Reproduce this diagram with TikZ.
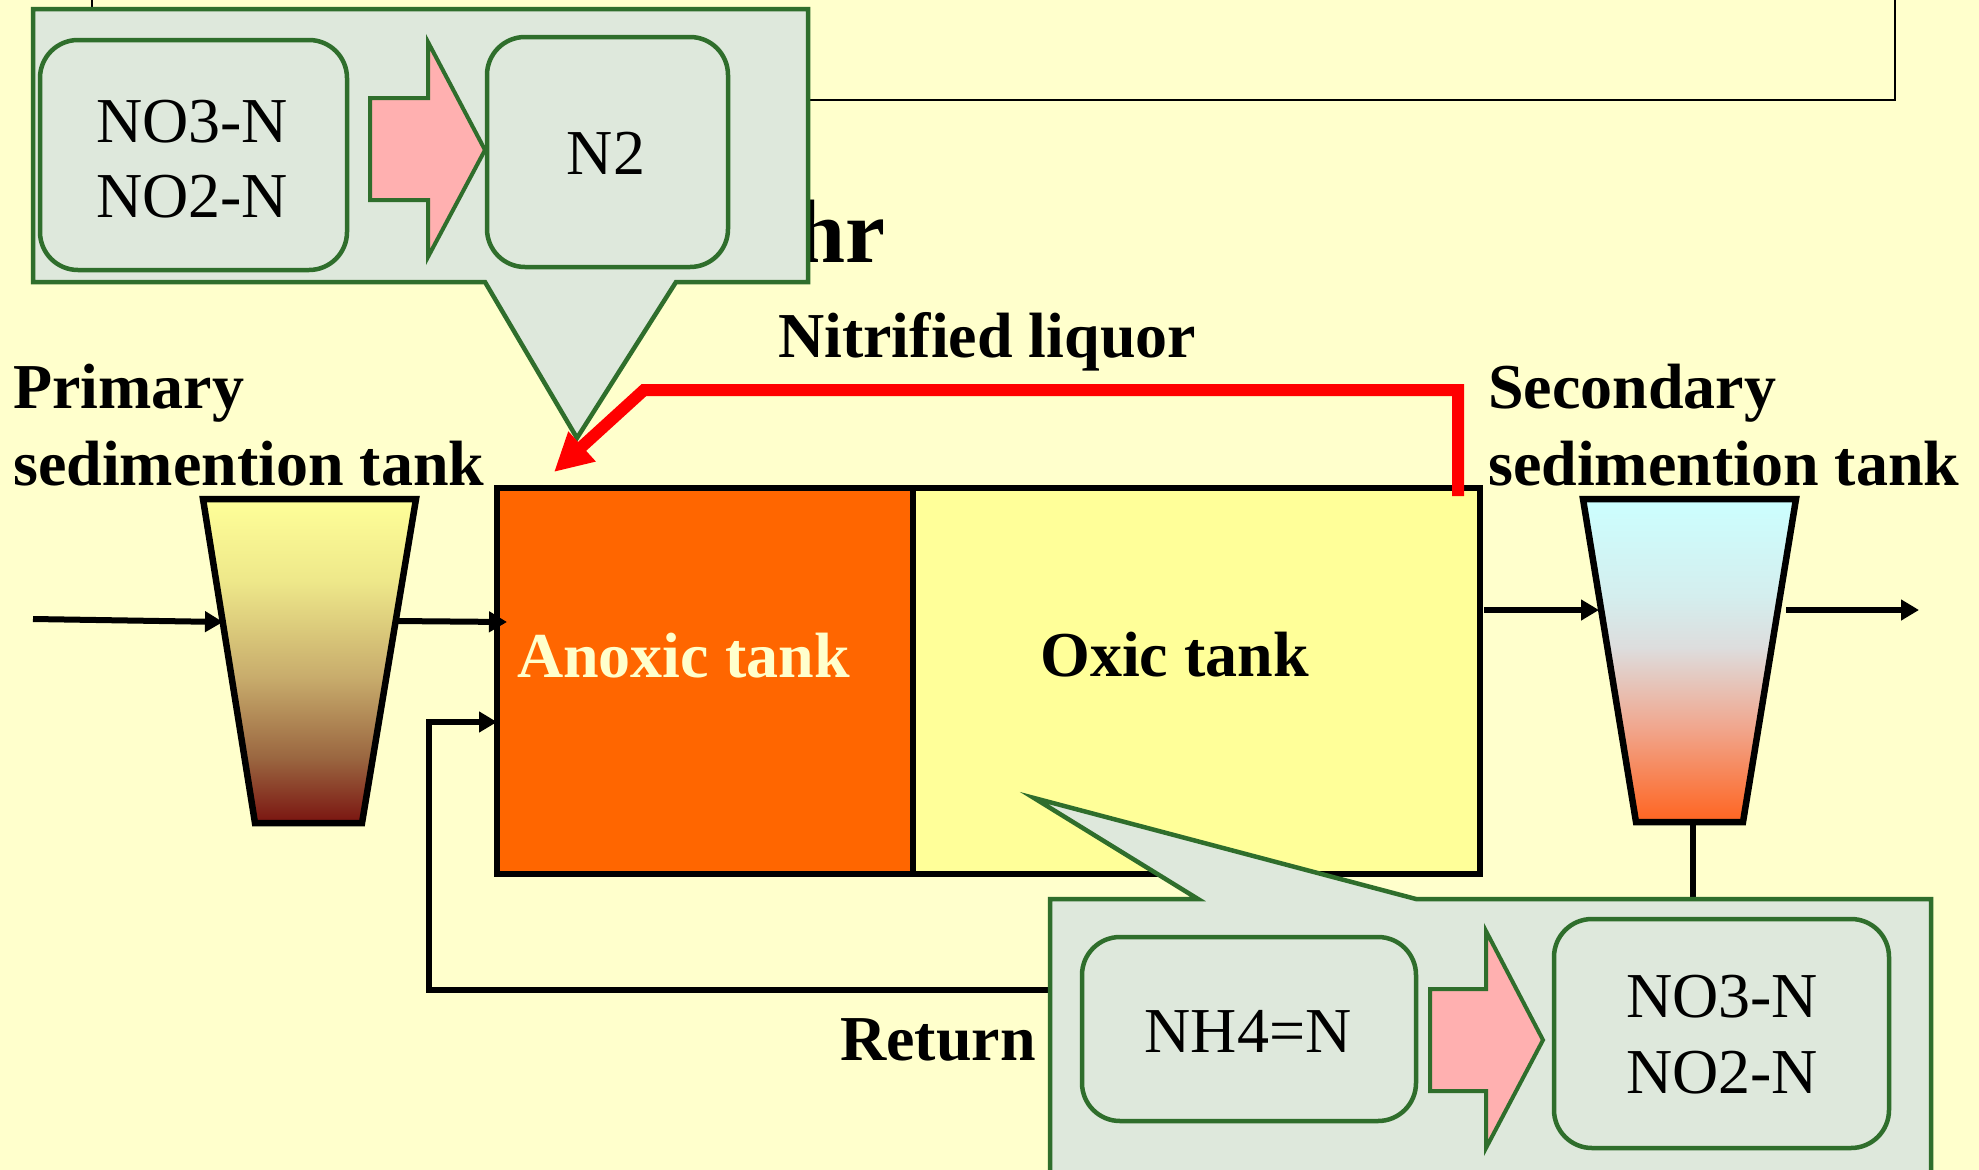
\documentclass[tikz,border=0pt]{standalone}
\usepackage{fontspec}
\setmainfont{Liberation Serif}
\usetikzlibrary{arrows.meta}
\definecolor{bg}{HTML}{FFFFCC}
\definecolor{anox}{HTML}{FF6600}
\definecolor{oxic}{HTML}{FFFF99}
\definecolor{cofill}{HTML}{DEE8DC}
\definecolor{cogreen}{HTML}{2F6E2C}
\definecolor{pinkarr}{HTML}{FFB0B0}
\definecolor{anoxtext}{HTML}{FFFFCC}
\definecolor{ptop}{HTML}{FFFF99}
\definecolor{pa}{HTML}{EEE88A}
\definecolor{pb}{HTML}{C8AC6C}
\definecolor{pc}{HTML}{9A6640}
\definecolor{pbot}{HTML}{7A1410}
\definecolor{stop}{HTML}{CCFFFF}
\definecolor{sa}{HTML}{D4EEEE}
\definecolor{sb}{HTML}{DDDDDD}
\definecolor{sc}{HTML}{F0A890}
\definecolor{sbot}{HTML}{FF6420}
\pgfdeclareverticalshading{primshade}{100bp}{color(0bp)=(pbot); color(25bp)=(pbot); color(35bp)=(pc); color(47.5bp)=(pb); color(62.5bp)=(pa); color(75bp)=(ptop); color(100bp)=(ptop)}
\pgfdeclareverticalshading{secshade}{100bp}{color(0bp)=(sbot); color(25bp)=(sbot); color(40bp)=(sc); color(52bp)=(sb); color(60bp)=(sa); color(75bp)=(stop); color(100bp)=(stop)}
\tikzset{
  lbl/.style={font=\fontsize{64}{77}\selectfont\bfseries, inner sep=0pt, anchor=base west},
  chem/.style={font=\fontsize{64}{77}\selectfont, inner sep=0pt, anchor=base},
  tankline/.style={draw=black, line width=6.5pt, line join=miter},
  flow/.style={draw=black, line width=6pt, -{Triangle[length=18pt,width=20pt]}},
  callout/.style={draw=cogreen, fill=cofill, line width=4.5pt, line join=miter},
  ibox/.style={draw=cogreen, fill=cofill, line width=4.5pt, rounded corners=38pt},
  barrow/.style={draw=cogreen, fill=pinkarr, line width=4pt, line join=miter},
}
\begin{document}
\begin{tikzpicture}[x=1pt, y=-1pt]
\useasboundingbox (0,0) rectangle (1979,1170);
\clip (0,0) rectangle (1979,1170);
\fill[bg] (0,0) rectangle (1979,1170);

% thin frame at top
\draw[line width=2.5pt] (92,-10) -- (92,100) -- (1895,100) -- (1895,-10);
\node[font=\fontsize{90}{100}\selectfont\bfseries, inner sep=0pt, anchor=base east] (hr) at (886,262) {hr};

% coordinates
\coordinate (inA) at (33,619);
\coordinate (inB) at (223,622);
\coordinate (pOut) at (395,621);
\coordinate (anoxIn) at (507,622);
\coordinate (oxOut) at (1484,610);
\coordinate (secIn) at (1599,610);
\coordinate (secOut) at (1786,610);
\coordinate (effl) at (1919,610);
\coordinate (secBot) at (1693,822);
\coordinate (retC1) at (1693,990);
\coordinate (retC2) at (429,990);
\coordinate (retC3) at (429,722);
\coordinate (anoxRet) at (497,722);
\coordinate (nlA) at (1458,496);
\coordinate (nlB) at (1458,390);
\coordinate (nlC) at (644,390);
\coordinate (nlTip) at (554,472);

% tanks
\draw[tankline, fill=anox] (497,488) rectangle (913,874);
\draw[tankline, fill=oxic] (913,488) rectangle (1480,874);
\path[shading=primshade] (203,499) -- (416,499) -- (362,823) -- (255,823) -- cycle;
\draw[tankline] (203,499) -- (416,499) -- (362,823) -- (255,823) -- cycle;
\path[shading=secshade] (1583,499) -- (1796,499) -- (1743,822) -- (1636,822) -- cycle;
\draw[tankline] (1583,499) -- (1796,499) -- (1743,822) -- (1636,822) -- cycle;

% flows
\draw[flow] (inA) -- (inB);
\draw[flow] (pOut) -- (anoxIn);
\draw[flow] (oxOut) -- (secIn);
\draw[flow] (secOut) -- (effl);
\draw[flow, line join=miter] (secBot) -- (retC1) -- (retC2) -- (retC3) -- (anoxRet);

% labels
\node[lbl] (prim1) at (13,408) {Primary};
\node[lbl] (prim2) at (13,485) {sedimention tank};
\node[lbl] (sec1) at (1488,408) {Secondary};
\node[lbl] (sec2) at (1488,485) {sedimention tank};
\node[lbl] (nitr) at (778,357) {Nitrified liquor};
\node[lbl, text=anoxtext] (anoxlbl) at (517,677) {Anoxic tank};
\node[lbl] (oxlbl) at (1040,676) {Oxic tank};
\node[lbl, anchor=base east] (ret) at (1036,1060) {Return};

% top callout
\draw[callout] (33,9) -- (808,9) -- (808,282) -- (676,282) -- (577,438) -- (485,282) -- (33,282) -- cycle;
\draw[ibox] (40,40) rectangle (347,270);
\draw[ibox] (487,37) rectangle (728,267);
\draw[barrow] (370,98) -- (428,98) -- (428,42) -- (485,150) -- (428,257) -- (428,200) -- (370,200) -- cycle;
\node[chem] (t1) at (192,142) {NO3-N};
\node[chem] (t2) at (192,217) {NO2-N};
\node[chem] (t3) at (606,174) {N2};

% bottom callout
\draw[callout] (1050,1190) -- (1050,899) -- (1198,899) -- (1034,798) -- (1416,899) -- (1931,899) -- (1931,1190);
\draw[ibox] (1082,937) rectangle (1416,1121);
\draw[ibox] (1554,919) rectangle (1889,1148);
\draw[barrow] (1430,989) -- (1486,989) -- (1486,931) -- (1543,1040) -- (1486,1148) -- (1486,1091) -- (1430,1091) -- cycle;
\node[chem] (b1) at (1248,1052) {NH4=N};
\node[chem] (b2) at (1722,1017) {NO3-N};
\node[chem] (b3) at (1722,1093) {NO2-N};

% nitrified liquor recycle
\draw[red, line width=12pt, line join=miter, -{Triangle[length=38pt,width=38pt]}] (nlA) -- (nlB) -- (nlC) -- (nlTip);
\end{tikzpicture}
\end{document}
